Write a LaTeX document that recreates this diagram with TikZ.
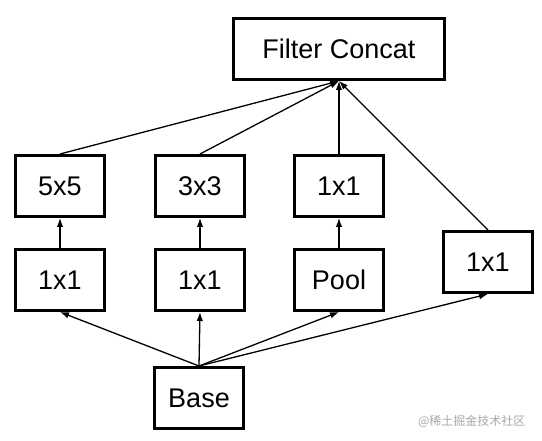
\documentclass[tikz,border=0pt]{standalone}
\usepackage{fontspec}
\setmainfont{Liberation Sans}
\newfontfamily\cjkfont{Noto Sans CJK SC}
\usetikzlibrary{arrows.meta}
\definecolor{ink}     {HTML}{000000}
\definecolor{markgray}{HTML}{A8A8A8}
\tikzset{
  % --- nodes
  blk/.style  = {draw=ink, line width=3pt, fill=white, inner sep=0pt,
                 minimum width=89pt, minimum height=61pt,
                 font=\fontsize{27}{32}\selectfont},
  wide/.style = {blk, minimum width=211pt},
  wmark/.style= {text=markgray, font=\cjkfont\fontsize{12}{14}\selectfont},
  % --- edges
  e/.style    = {-{Latex[length=9pt,width=6.5pt]}, line width=1.3pt, draw=ink},
}
\begin{document}
\begin{tikzpicture}[x=1pt,y=-1pt]
  \useasboundingbox (0,0) rectangle (542,441);

  % output
  \node[wide] (concat) at (339,49) {Filter Concat};

  % upper row
  \node[blk] (c5)  at (60,186)  {5x5};
  \node[blk] (c3)  at (200,186) {3x3};
  \node[blk] (c1)  at (339,186) {1x1};

  % lower row
  \node[blk] (r5)   at (60,280)  {1x1};
  \node[blk] (r3)   at (200,280) {1x1};
  \node[blk] (pool) at (339,280) {Pool};
  \node[blk] (side) at (488,262) {1x1};

  % input
  \node[blk] (base) at (199,398) {Base};

  % base to branches
  \draw[e] (base.north) -- (r5.south);
  \draw[e] (base.north) -- (r3.south);
  \draw[e] (base.north) -- (pool.south);
  \draw[e] (base.north) -- (side.south);

  % inside branches
  \draw[e] (r5.north) -- (c5.south);
  \draw[e] (r3.north) -- (c3.south);
  \draw[e] (pool.north) -- (c1.south);

  % branches to concat
  \draw[e] (c5.north) -- (concat.south);
  \draw[e] (c3.north) -- (concat.south);
  \draw[e] (c1.north) -- (concat.south);
  \draw[e] (side.north) -- (concat.south);

  \node[wmark, anchor=east] (wm) at (529,421) {@稀土掘金技术社区};
\end{tikzpicture}
\end{document}
